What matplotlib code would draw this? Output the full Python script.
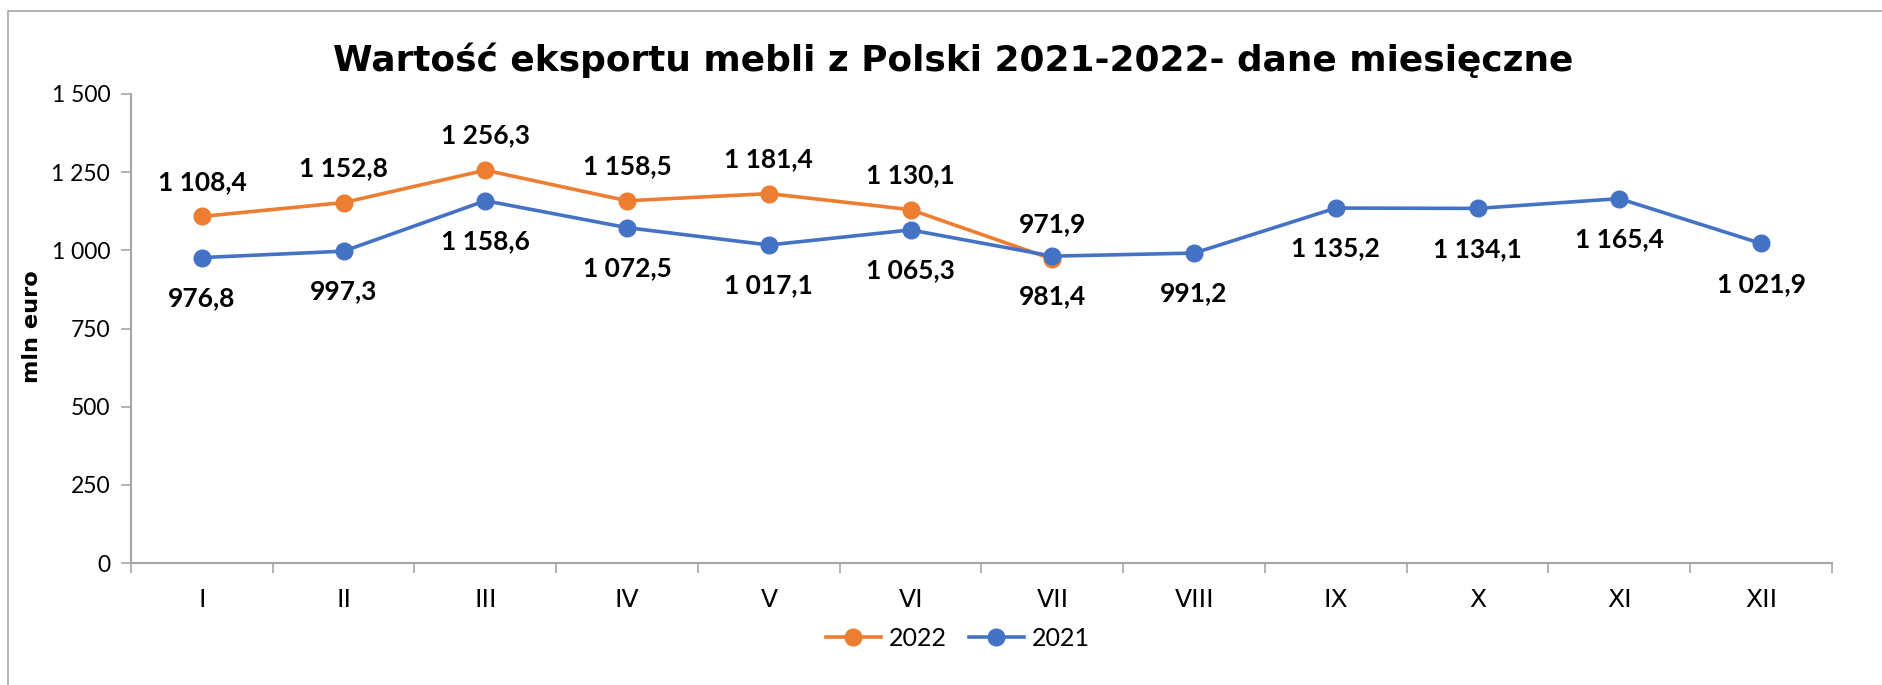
import matplotlib.pyplot as plt
from matplotlib.patches import Rectangle
from matplotlib.ticker import FuncFormatter, FixedLocator

months = ['I', 'II', 'III', 'IV', 'V', 'VI', 'VII', 'VIII', 'IX', 'X', 'XI', 'XII']
val_2022 = [1108.4, 1152.8, 1256.3, 1158.5, 1181.4, 1130.1, 971.9]
val_2021 = [976.8, 997.3, 1158.6, 1072.5, 1017.1, 1065.3, 981.4, 991.2, 1135.2, 1134.1, 1165.4, 1021.9]
yticks = [0, 250, 500, 750, 1000, 1250, 1500]

c_2022 = '#ED7D31'
c_2021 = '#4472C4'
plt.rcParams['font.family'] = ['Lato', 'DejaVu Sans']


def pl(v, dec=1):
    s = f'{v:,.{dec}f}'
    return s.replace(',', ' ').replace('.', ',')


def fit(txt, target_px, vertical=False):
    # scale a text so its long side is target_px pixels
    r = fig.canvas.get_renderer()
    bb = txt.get_window_extent(renderer=r)
    size = bb.height if vertical else bb.width
    txt.set_fontsize(txt.get_fontsize() * target_px / size)


fig = plt.figure(figsize=(18.83, 6.85), dpi=100)
ax = fig.add_axes([131 / 1883, 1 - 563 / 685, (1832 - 131) / 1883, (563 - 94) / 685])

# outer chart border
fig.patches.append(Rectangle((8 / 1883, -0.1), 1.2, 1 - 11 / 685 + 0.1, transform=fig.transFigure,
                             fill=False, edgecolor='#a6a6a6', linewidth=1.2))

x21 = list(range(len(val_2021)))
x22 = list(range(len(val_2022)))
ax.plot(x22, val_2022, color=c_2022, lw=2.6, marker='o', ms=12, label='2022', zorder=3)
ax.plot(x21, val_2021, color=c_2021, lw=2.6, marker='o', ms=12, label='2021', zorder=3)

for x, v in zip(x22, val_2022):
    ax.annotate(pl(v), (x, v), xytext=(0, 25), textcoords='offset points', ha='center', va='center',
                fontsize=19, fontweight='bold')
for x, v in zip(x21, val_2021):
    ax.annotate(pl(v), (x, v), xytext=(0, -29), textcoords='offset points', ha='center', va='center',
                fontsize=19, fontweight='bold')

ax.set_xlim(-0.5, 11.5)
ax.set_ylim(0, 1500)
ax.set_yticks(yticks)
ax.yaxis.set_major_formatter(FuncFormatter(lambda v, p: pl(v, 0)))
ax.xaxis.set_major_locator(FixedLocator([i - 0.5 for i in range(13)]))
ax.xaxis.set_major_formatter(FuncFormatter(lambda v, p: ''))
ax.xaxis.set_minor_locator(FixedLocator(x21))
ax.set_xticklabels(months, minor=True, family='DejaVu Sans', fontsize=18)
ax.tick_params(axis='x', which='minor', length=0, pad=18)
ax.tick_params(axis='x', which='major', length=7, color='#a6a6a6', width=1.2)
ax.tick_params(axis='y', length=7, color='#a6a6a6', width=1.2, labelsize=16.5, pad=8)

for s in ['top', 'right']:
    ax.spines[s].set_visible(False)
for s in ['left', 'bottom']:
    ax.spines[s].set_color('#a6a6a6')
    ax.spines[s].set_linewidth(1.5)

ylab = fig.text(32 / 1883, 1 - 327 / 685, 'mln euro', rotation=90, ha='center', va='center',
                fontsize=15, fontweight='bold', family='DejaVu Sans')
title = fig.text(953 / 1883, 1 - 60 / 685, 'Wartość eksportu mebli z Polski 2021-2022- dane miesięczne',
                 ha='center', va='center', fontsize=26, fontweight='bold', family='DejaVu Sans')
fit(ylab, 113, vertical=True)
fit(title, 1239)

ax.legend(loc='center', bbox_to_anchor=(0.486, -0.16), ncol=2, frameon=False, fontsize=18,
          handlelength=2.2, columnspacing=0.9, handletextpad=0.3)

fig.savefig('out.png', dpi=100)
